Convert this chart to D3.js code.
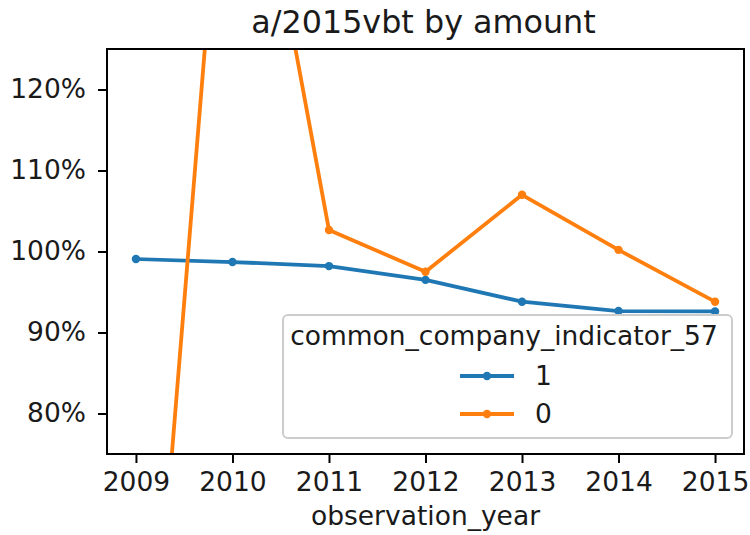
<!DOCTYPE html>
<html><head><meta charset="utf-8">
<script src="https://cdn.jsdelivr.net/npm/d3@7"></script>
<style>
html,body{margin:0;padding:0;background:#fff;}
text{font-family:"DejaVu Sans",sans-serif;fill:#1a1a1a;}
</style></head>
<body><svg id="c" width="750" height="535"></svg>
<script>
const years = [2009, 2010, 2011, 2012, 2013, 2014, 2015];
const series1 = [0.9907, 0.9870, 0.9820, 0.9650, 0.9380, 0.9265, 0.9260];
const series0 = [0.205, 1.670, 1.0265, 0.9750, 1.0700, 1.0020, 0.9380];
const seriesNames = ["1", "0"];
const yTicks = [0.8, 0.9, 1.0, 1.1, 1.2];
const title = "a/2015vbt by amount";
const xLabel = "observation_year";
const legendTitle = "common_company_indicator_57";

const colors = ["#1f77b4", "#ff7f0e"];
const L = 107, R = 744, T = 49, B = 454;
const FS = 26.5;
const svg = d3.select("#c");

const x = d3.scaleLinear().domain([2009 - 0.3, 2015 + 0.3]).range([L, R]);
const y = d3.scaleLinear().domain([0.75, 1.25]).range([B, T]);

svg.append("defs").append("clipPath").attr("id", "clip")
  .append("rect").attr("x", L).attr("y", T).attr("width", R - L).attr("height", B - T);

// axes
const xAxis = d3.axisBottom(x).tickValues(years).tickFormat(d3.format("d")).tickSizeOuter(0).tickSize(9).tickPadding(9);
const yAxis = d3.axisLeft(y).tickValues(yTicks).tickFormat(d3.format(".0%")).tickSizeOuter(0).tickSize(9).tickPadding(12);
const gx = svg.append("g").attr("transform", `translate(0,${B})`).call(xAxis);
const gy = svg.append("g").attr("transform", `translate(${L},0)`).call(yAxis);
[gx, gy].forEach(g => {
  g.select(".domain").remove();
  g.selectAll(".tick line").attr("stroke", "#000").attr("stroke-width", 2);
  g.selectAll(".tick text").attr("font-size", FS).attr("fill", "#1a1a1a").style("font-family", "DejaVu Sans");
});
gx.selectAll(".tick text").attr("dy", "0.73em");

// lines
const line = d3.line().x((d, i) => x(years[i])).y(d => y(d));
const plot = svg.append("g").attr("clip-path", "url(#clip)");
[series1, series0].forEach((s, k) => {
  plot.append("path").datum(s).attr("d", line).attr("fill", "none")
    .attr("stroke", colors[k]).attr("stroke-width", 3.8).attr("stroke-linejoin", "round").attr("stroke-linecap", "square");
  plot.selectAll(null).data(s).enter().append("circle")
    .attr("cx", (d, i) => x(years[i])).attr("cy", d => y(d)).attr("r", 4.2).attr("fill", colors[k]);
});

// frame
svg.append("rect").attr("x", L).attr("y", T).attr("width", R - L).attr("height", B - T)
  .attr("fill", "none").attr("stroke", "#000").attr("stroke-width", 2);

// title and x label
svg.append("text").attr("x", (L + R) / 2 - 2).attr("y", 33).attr("text-anchor", "middle")
  .attr("font-size", 31.8).text(title);
svg.append("text").attr("x", (L + R) / 2).attr("y", 525).attr("text-anchor", "middle")
  .attr("font-size", FS).text(xLabel);

// legend
const lg = svg.append("g");
lg.append("rect").attr("x", 283).attr("y", 315).attr("width", 449).attr("height", 123).attr("rx", 5)
  .attr("fill", "#fff").attr("fill-opacity", 0.8).attr("stroke", "#cccccc").attr("stroke-width", 2);
lg.append("text").attr("x", 504).attr("y", 345).attr("text-anchor", "middle").attr("font-size", FS).text(legendTitle);
const ly = [376, 414];
seriesNames.forEach((n, k) => {
  lg.append("line").attr("x1", 460).attr("x2", 514).attr("y1", ly[k]).attr("y2", ly[k])
    .attr("stroke", colors[k]).attr("stroke-width", 3.8);
  lg.append("circle").attr("cx", 487).attr("cy", ly[k]).attr("r", 4.2).attr("fill", colors[k]);
  lg.append("text").attr("x", 535).attr("y", ly[k] + 9).attr("font-size", FS).text(n);
});
</script></body></html>
